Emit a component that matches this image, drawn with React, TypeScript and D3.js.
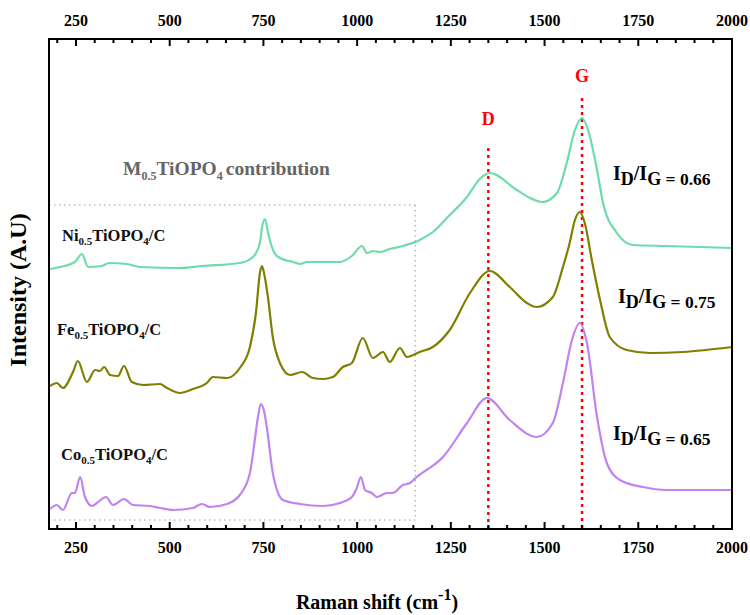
import React from "react";
import * as d3 from "d3";

// Raman shift (cm^-1) / intensity (A.U., stacked with offsets)
const niShift = [181, 207, 247, 266, 282, 319, 338, 386, 421, 527, 586, 687, 722, 741, 746, 754, 762, 767, 778, 794, 829, 848, 866, 954, 986, 1013, 1026, 1042, 1061, 1087, 1122, 1167, 1202, 1247, 1293, 1327, 1354, 1426, 1461, 1495, 1533, 1559, 1581, 1600, 1616, 1640, 1656, 1693, 1736, 1826, 2000];
const niInt = [26.0, 26.2, 26.7, 27.5, 26.2, 26.3, 26.6, 26.5, 26.2, 26.1, 26.3, 26.6, 27.2, 28.7, 30.1, 31.0, 29.7, 28.9, 27.7, 27.1, 26.7, 26.5, 26.7, 26.7, 27.3, 28.3, 27.6, 27.8, 27.7, 28.0, 28.3, 28.9, 29.7, 31.4, 33.2, 35.0, 35.6, 33.9, 33.1, 32.7, 33.6, 36.6, 39.9, 41.1, 39.9, 35.9, 32.6, 29.6, 28.4, 28.3, 28.1];

const feShift = [181, 199, 215, 242, 255, 279, 301, 314, 325, 341, 362, 378, 399, 429, 474, 493, 527, 562, 599, 615, 653, 687, 714, 730, 741, 746, 751, 762, 775, 794, 821, 853, 882, 909, 935, 962, 986, 1015, 1042, 1069, 1087, 1114, 1133, 1167, 1202, 1247, 1301, 1354, 1407, 1453, 1479, 1522, 1549, 1567, 1581, 1594, 1608, 1626, 1648, 1674, 1719, 1781, 1869, 2000];
const feInt = [14.3, 14.6, 14.1, 15.7, 16.8, 14.7, 15.9, 15.8, 16.2, 15.4, 15.3, 16.3, 14.7, 14.4, 14.5, 14.1, 13.6, 14.0, 14.6, 15.2, 15.1, 16.1, 18.2, 21.6, 25.7, 26.3, 25.7, 23.2, 19.2, 16.6, 15.4, 15.7, 15.1, 15.0, 15.2, 16.2, 16.6, 19.1, 17.1, 17.7, 16.7, 18.1, 17.2, 17.7, 18.2, 19.9, 23.6, 25.8, 24.2, 22.6, 22.2, 23.2, 26.2, 28.6, 30.9, 31.7, 30.5, 26.9, 22.9, 19.2, 17.9, 17.6, 17.7, 18.2];

const coShift = [181, 199, 215, 239, 247, 261, 274, 293, 309, 330, 349, 378, 402, 447, 474, 509, 562, 586, 607, 653, 687, 714, 727, 735, 743, 751, 759, 775, 802, 847, 909, 954, 986, 999, 1010, 1021, 1039, 1053, 1079, 1095, 1122, 1141, 1159, 1229, 1293, 1346, 1407, 1479, 1522, 1549, 1573, 1594, 1613, 1640, 1666, 1701, 1762, 1826, 2000];
const coInt = [2.0, 2.4, 1.9, 3.6, 3.6, 5.2, 3.2, 2.3, 2.7, 3.2, 2.4, 3.0, 2.4, 2.3, 2.1, 1.9, 2.1, 2.5, 2.2, 2.5, 3.4, 5.6, 8.9, 11.1, 12.5, 11.9, 10.2, 5.6, 2.9, 2.5, 2.3, 2.6, 3.2, 4.1, 5.2, 3.9, 3.6, 3.2, 3.6, 3.6, 4.4, 4.6, 5.2, 7.2, 10.6, 13.1, 10.9, 9.2, 10.6, 14.6, 18.9, 20.6, 18.6, 11.2, 6.6, 4.9, 4.2, 3.9, 3.9];

const majorTicks = [250, 500, 750, 1000, 1250, 1500, 1750, 2000];
const minorTicks = d3.range(200, 2001, 50);
const xDomain = [178, 2000];
const yDomain = [0, 49];
const dShift = 1350;
const gShift = 1600;
const boxShift = 1155;
const boxTop = 32.4;
const boxBottom = 0.9;
const ratios = ["0.66", "0.75", "0.65"];

const W = 750, H = 615;
const M = { left: 49, right: 732, top: 39, bottom: 529 };
const FONT = "'Liberation Serif', 'Times New Roman', serif";

export default function App() {
  const x = d3.scaleLinear().domain(xDomain).range([M.left, M.right]);
  const y = d3.scaleLinear().domain(yDomain).range([M.bottom, M.top]);
  const line = d3
    .line<[number, number]>()
    .x((d) => x(d[0]))
    .y((d) => y(d[1]))
    .curve(d3.curveMonotoneX);
  const pts = (a: number[], b: number[]) => a.map((v, i) => [v, b[i]] as [number, number]);

  const series = [
    { data: pts(niShift, niInt), color: "#6edcaa" },
    { data: pts(feShift, feInt), color: "#7f7f00" },
    { data: pts(coShift, coInt), color: "#c084f0" },
  ];

  const ticks = (yBase: number, dir: number) => (
    <g>
      {minorTicks.map((t) => (
        <line key={"m" + t} x1={x(t)} x2={x(t)} y1={yBase} y2={yBase + dir * (majorTicks.includes(t) ? 7 : 4)} stroke="#000" strokeWidth={2} />
      ))}
    </g>
  );

  const legend = (el: string, tx: number, ty: number) => (
    <text x={tx} y={ty} fontFamily={FONT} fontWeight="bold" fontSize={16.5} fill="#111">
      {el}
      <tspan fontSize={11} dy={4}>0.5</tspan>
      <tspan dy={-4}>TiOPO</tspan>
      <tspan fontSize={11} dy={4}>4</tspan>
      <tspan dy={-4}>/C</tspan>
    </text>
  );

  const ratio = (val: string, tx: number, ty: number) => (
    <text x={tx} y={ty} fontFamily={FONT} fontWeight="bold" fontSize={20} fill="#000">
      I<tspan fontSize={18} dy={5}>D</tspan>
      <tspan dy={-5}>/I</tspan>
      <tspan fontSize={18} dy={5}>G</tspan>
      <tspan fontSize={17.5}> = {val}</tspan>
    </text>
  );

  return (
    <svg width={W} height={H} style={{ position: "absolute", left: 0, top: 0, background: "#fff" }}>
      {/* dotted contribution box */}
      <g stroke="#9a9a9a" strokeWidth={1} strokeDasharray="1.5,3.5" fill="none">
        <line x1={M.left} x2={x(boxShift)} y1={y(boxTop)} y2={y(boxTop)} />
        <line x1={M.left} x2={x(boxShift)} y1={y(boxBottom)} y2={y(boxBottom)} />
        <line x1={x(boxShift)} x2={x(boxShift)} y1={y(boxTop)} y2={y(boxBottom)} />
      </g>

      {/* D and G lines */}
      <g stroke="#ff0000" strokeWidth={2.5} strokeDasharray="3,4">
        <line x1={x(dShift)} x2={x(dShift)} y1={148} y2={M.bottom} />
        <line x1={x(gShift)} x2={x(gShift)} y1={98} y2={M.bottom} />
      </g>
      <text x={x(dShift)} y={125} textAnchor="middle" fontFamily={FONT} fontWeight="bold" fontSize={18} fill="#ff0000">D</text>
      <text x={x(gShift)} y={82} textAnchor="middle" fontFamily={FONT} fontWeight="bold" fontSize={18} fill="#ff0000">G</text>

      {series.map((s, i) => (
        <path key={i} d={line(s.data) || ""} fill="none" stroke={s.color} strokeWidth={2.2} strokeLinejoin="round" />
      ))}

      {/* frame */}
      <rect x={M.left} y={M.top} width={M.right - M.left} height={M.bottom - M.top} fill="none" stroke="#000" strokeWidth={2} />
      {ticks(M.bottom, -1)}
      {ticks(M.top, 1)}

      {majorTicks.map((t) => (
        <g key={t} fontFamily={FONT} fontWeight="bold" fontSize={16} textAnchor="middle" fill="#000">
          <text x={x(t)} y={26}>{t}</text>
          <text x={x(t)} y={553}>{t}</text>
        </g>
      ))}

      {/* texts */}
      <text x={123} y={175} fontFamily={FONT} fontWeight="bold" fontSize={19.5} fill="#666">
        M<tspan fontSize={12} dy={5}>0.5</tspan>
        <tspan dy={-5}>TiOPO</tspan>
        <tspan fontSize={12} dy={5}>4</tspan>
        <tspan dy={-5} dx={3}>contribution</tspan>
      </text>
      {legend("Ni", 62, 241)}
      {legend("Fe", 57, 335)}
      {legend("Co", 61, 460)}

      {ratio(ratios[0], 613, 180)}
      {ratio(ratios[1], 618, 303)}
      {ratio(ratios[2], 613, 440)}

      <text x={377} y={609} textAnchor="middle" fontFamily={FONT} fontWeight="bold" fontSize={20} fill="#000">
        Raman shift (cm<tspan fontSize={16} dy={-9}>-1</tspan>
        <tspan dy={9}>)</tspan>
      </text>
      <text transform="translate(26,290) rotate(-90)" textAnchor="middle" fontFamily={FONT} fontWeight="bold" fontSize={24} fill="#000">
        Intensity (A.U)
      </text>
    </svg>
  );
}
